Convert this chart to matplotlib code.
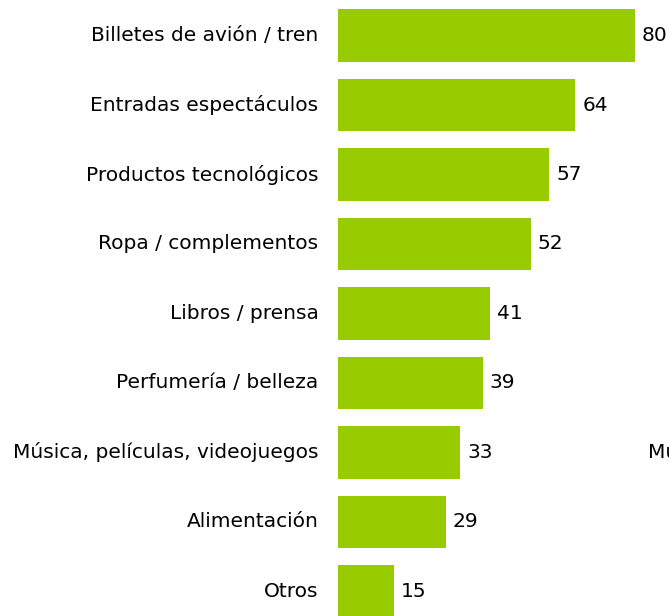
import matplotlib
matplotlib.use("Agg")
import matplotlib.pyplot as plt

# Data
categories = [
    "Billetes de avión / tren",
    "Entradas espectáculos",
    "Productos tecnológicos",
    "Ropa / complementos",
    "Libros / prensa",
    "Perfumería / belleza",
    "Música, películas, videojuegos",
    "Alimentación",
    "Otros",
]
values = [80, 64, 57, 52, 41, 39, 33, 29, 15]

plt.rcParams['font.family'] = ['DejaVu Sans']

fig = plt.figure(figsize=(6.69, 6.16), dpi=100)
ax = fig.add_axes([338 / 669, 0, 1 - 338 / 669, 1])

pos = list(range(len(categories)))
ax.barh(pos, values, height=0.76, color='#99cc00')

ax.set_xlim(0, 331 / 3.71)
ax.set_ylim(8.353, -0.511)
ax.axis('off')

for p, v, c in zip(pos, values, categories):
    ax.annotate(str(v), (v, p), xytext=(5, 0), textcoords='offset points',
                ha='left', va='center', fontsize=14.5)
    ax.annotate(c, (0, p), xytext=(-14, 0), textcoords='offset points',
                ha='right', va='center', fontsize=14.5, annotation_clip=False)

# truncated label of a neighbouring chart at the right edge
fig.text(648 / 669, 1 - 452.5 / 616, "Música, películas, videojuegos",
         ha='left', va='center', fontsize=14.5)

fig.savefig("out.png", dpi=100)
